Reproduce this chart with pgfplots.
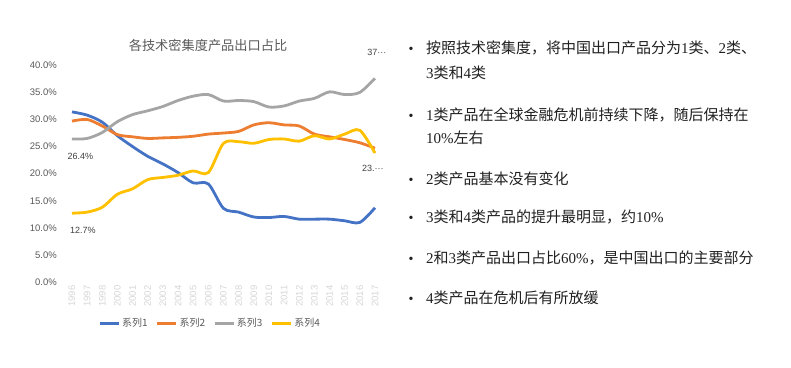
\documentclass[border=0pt]{standalone}
\usepackage{fontspec}
\setmainfont{Liberation Serif}
\newfontfamily\cjk{Noto Sans CJK SC}
\newfontfamily\arial{Liberation Sans}
\usepackage{pgfplots}
\pgfplotsset{compat=1.18}
\usepackage{pgfplotstable}
\definecolor{cA}{HTML}{4472C4}
\definecolor{cB}{HTML}{ED7D31}
\definecolor{cC}{HTML}{A5A5A5}
\definecolor{cD}{HTML}{FFC000}
\definecolor{tgray}{HTML}{595959}
\definecolor{lgray}{HTML}{D6D6D6}
\definecolor{dgray}{HTML}{404040}
\definecolor{txt}{HTML}{202020}
\newcommand\zh[1]{{\cjk #1}}
\pgfplotstableread{
idx s1 s2 s3 s4
0 31.4 29.7 26.4 12.7
1 30.8 30.0 26.5 12.9
2 29.5 28.8 27.6 13.8
3 27.0 27.2 29.6 16.2
4 25.0 26.8 30.9 17.2
5 23.2 26.5 31.6 18.9
6 21.8 26.6 32.4 19.3
7 20.2 26.7 33.5 19.7
8 18.3 26.9 34.3 20.5
9 18.1 27.3 34.6 20.2
10 13.6 27.5 33.4 25.6
11 12.9 27.8 33.5 25.9
12 12.0 29.0 33.3 25.6
13 11.9 29.4 32.3 26.3
14 12.1 29.0 32.5 26.4
15 11.6 28.8 33.4 26.0
16 11.6 27.3 33.9 27.0
17 11.6 26.8 35.1 26.4
18 11.3 26.3 34.6 27.3
19 11.0 25.7 35.0 28.0
20 13.7 24.7 37.6 23.8
}\data
\begin{document}
\begin{tikzpicture}
\path[use as bounding box] (0pt,0pt) rectangle (791pt,367pt);
\begin{axis}[
  at={(64.4pt,85pt)}, anchor=south west,
  scale only axis, width=318.15pt, height=216.7pt,
  xmin=-0.5, xmax=20.5, ymin=0, ymax=40,
  clip=false,
  axis line style={draw=none},
  major tick length=0pt,
  ytick={0,5,10,15,20,25,30,35,40},
  yticklabels={0.0\%,5.0\%,10.0\%,15.0\%,20.0\%,25.0\%,30.0\%,35.0\%,40.0\%},
  yticklabel style={font=\arial\fontsize{9.5}{11}\selectfont, text=tgray, xshift=-4pt},
  xtick={0,...,20},
  xticklabels={1996,1997,1998,2000,2001,2002,2003,2004,2005,2006,2007,2008,2009,2010,2011,2012,2013,2014,2015,2016,2017},
  xticklabel style={font=\arial\fontsize{9.5}{11}\selectfont, text=lgray, rotate=90, anchor=east, yshift=0pt},
  legend columns=4,
  legend style={at={(axis description cs:0.458,-0.191)}, anchor=center, draw=none, fill=none,
     font=\cjk\fontsize{10}{12}\selectfont, text=tgray,
     /tikz/every even column/.append style={column sep=6pt}},
  legend image code/.code={\draw[#1] (0pt,0pt) -- (19pt,0pt);},
  every axis plot/.append style={line width=2.8pt, smooth, tension=0.5, no markers},
]
\addplot[cA] table[x=idx,y=s1]{\data};
\addplot[cB] table[x=idx,y=s2]{\data};
\addplot[cC] table[x=idx,y=s3]{\data};
\addplot[cD] table[x=idx,y=s4]{\data};
\legend{系列1,系列2,系列3,系列4}
\node[font=\arial\fontsize{9}{10}\selectfont, text=dgray] at (axis cs:0,26.4) [xshift=8.5pt, yshift=-17.7pt] {26.4\%};
\node[font=\arial\fontsize{9}{10}\selectfont, text=dgray] at (axis cs:0,12.7) [xshift=11pt, yshift=-17pt] {12.7\%};
\node[font=\arial\fontsize{9}{10}\selectfont, text=dgray] at (axis cs:20,37.6) [xshift=2pt, yshift=26pt] {37\textperiodcentered\textperiodcentered\textperiodcentered};
\node[font=\arial\fontsize{9}{10}\selectfont, text=dgray] at (axis cs:20,23.8) [xshift=-2pt, yshift=-15.5pt] {23.\textperiodcentered\textperiodcentered\textperiodcentered};
\end{axis}
\node[font=\cjk\fontsize{13.2}{15}\selectfont, text=tgray] at (208pt,322pt) {各技术密集度产品出口占比};
\begin{scope}[every node/.style={anchor=west, font=\fontsize{15}{18}\selectfont, text=txt, inner sep=0pt}]
\node at (426pt,319pt) {\zh{按照技术密集度，将中国出口产品分为}1\zh{类、}2\zh{类、}};
\node at (426pt,294pt) {3\zh{类和}4\zh{类}};
\node at (426pt,252pt) {1\zh{类产品在全球金融危机前持续下降，随后保持在}};
\node at (426pt,229pt) {10\%\zh{左右}};
\node at (426pt,188pt) {2\zh{类产品基本没有变化}};
\node at (426pt,150pt) {3\zh{类和}4\zh{类产品的提升最明显，约}10\%};
\node at (426pt,109pt) {2\zh{和}3\zh{类产品出口占比}60\%\zh{，是中国出口的主要部分}};
\node at (426pt,69pt) {4\zh{类产品在危机后有所放缓}};
\end{scope}
\begin{scope}[every node/.style={anchor=center, font=\fontsize{14}{16}\selectfont, text=txt, inner sep=0pt}]
\node at (411pt,317pt) {\textbullet};
\node at (411pt,250pt) {\textbullet};
\node at (411pt,186pt) {\textbullet};
\node at (411pt,148pt) {\textbullet};
\node at (411pt,107pt) {\textbullet};
\node at (411pt,67pt) {\textbullet};
\end{scope}
\end{tikzpicture}
\end{document}
